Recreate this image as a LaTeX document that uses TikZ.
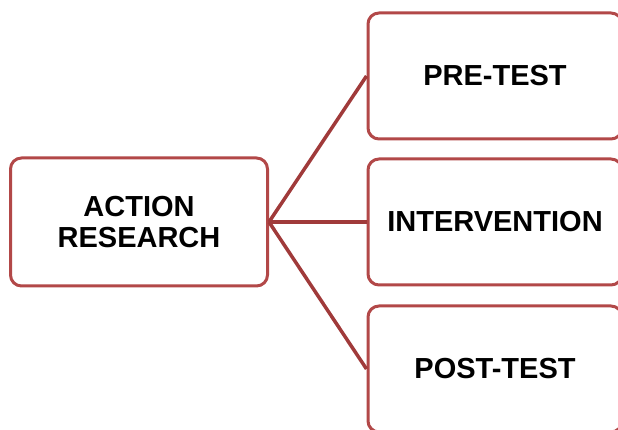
\documentclass[tikz,border=0pt]{standalone}
\usepackage{fontspec}
\setmainfont{Liberation Sans}
\usepackage{tikz}
\usetikzlibrary{positioning}
\definecolor{boxred}{RGB}{178,72,72}
\definecolor{lnkred}{RGB}{160,58,58}
\tikzstyle{blk}=[draw=boxred,line width=3pt,rounded corners=11pt,fill=white,inner sep=0pt,minimum width=254pt,minimum height=126pt,align=center,font=\fontsize{29}{31.5}\selectfont\bfseries]
\tikzstyle{lnk}=[draw=lnkred,line width=3.5pt]

\begin{document}
\begin{tikzpicture}[x=1pt,y=1pt]
\useasboundingbox (0,0) rectangle (618,430);
\node[blk,minimum width=257pt,minimum height=128pt] at (139,208)(act){ACTION\\RESEARCH};
\foreach \n/\y/\t in {pre/354/PRE-TEST,int/208/INTERVENTION,post/61/POST-TEST}{
\node[blk] at (495,\y)(\n){\t};
\draw[lnk] (act.east) -- (\n.west);}
\end{tikzpicture}
\end{document}
